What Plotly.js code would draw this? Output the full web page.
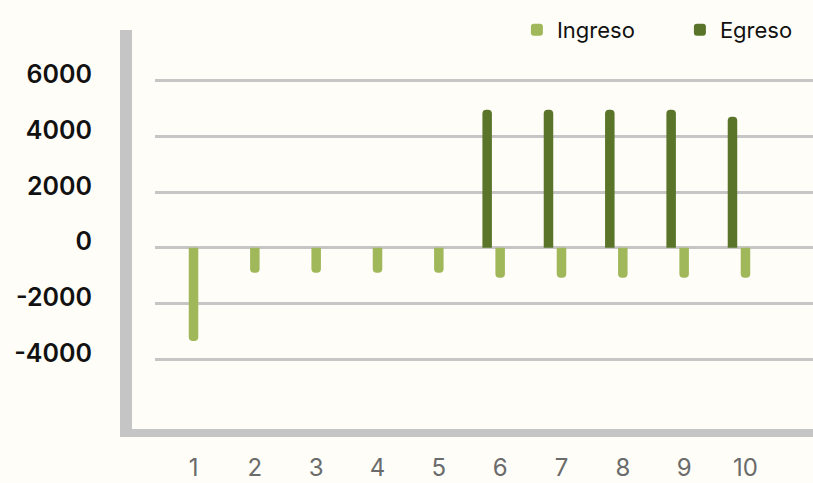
<!DOCTYPE html>
<html>
<head>
<meta charset="utf-8">
<script src="https://cdn.plot.ly/plotly-3.0.1.min.js"></script>
<style>
  html, body { margin: 0; padding: 0; background: #fefdf7; }
  #chart { width: 813px; height: 483px; }
</style>
</head>
<body>
<div id="chart"></div>
<script>
const categories = [1, 2, 3, 4, 5, 6, 7, 8, 9, 10];
const ingreso = [-3350, -900, -900, -900, -900, -1080, -1080, -1080, -1080, -1080];
const egreso = [0, 0, 0, 0, 0, 4950, 4950, 4950, 4950, 4700];
const yTicks = [-4000, -2000, 0, 2000, 4000, 6000];
const yTickText = ['-4000', '-2000', '0', '2000', '4000', '6000'];
const xTickText = ['1', '2', '3', '4', '5', '6', '7', '8', '9', '10'];

const barW = 0.155;
const traces = [
  {
    type: 'bar', name: 'Ingreso', x: categories, y: ingreso,
    width: barW, offset: -barW / 2,
    marker: { color: '#a0b75a', cornerradius: 5 },
    hoverinfo: 'x+y'
  },
  {
    type: 'bar', name: 'Egreso', x: categories, y: egreso,
    width: barW, offset: -0.212 - barW / 2,
    marker: { color: '#5a752a', cornerradius: 5 },
    hoverinfo: 'x+y'
  }
];

const FONT = 'Inter, "Noto Sans", sans-serif';

const layout = {
  width: 813, height: 483,
  margin: { l: 155, r: 0, t: 30, b: 50, autoexpand: false },
  paper_bgcolor: '#fefdf7',
  plot_bgcolor: '#fefdf7',
  barmode: 'overlay',
  showlegend: true,
  legend: {
    orientation: 'h', x: 0.55, xanchor: 'left', y: 1.0, yanchor: 'middle',
    font: { family: FONT, size: 22, color: '#111111' },
    bgcolor: 'rgba(0,0,0,0)', itemwidth: 30, traceorder: 'normal',
    entrywidth: 118
  },
  xaxis: {
    type: 'linear', range: [0.372, 11.101],
    tickvals: categories, ticktext: xTickText,
    showgrid: false, zeroline: false, showline: false, ticks: '',
    ticklabelstandoff: 18,
    tickfont: { family: FONT, size: 24, color: '#6b6b6b' },
    fixedrange: true
  },
  yaxis: {
    range: [-6654, 7817],
    tickvals: yTicks, ticktext: yTickText,
    showgrid: true, gridcolor: '#c6c6c6', gridwidth: 3,
    zeroline: false, showline: false, ticks: '',
    ticklabelstandoff: 62, ticklabelshift: -6,
    tickfont: { family: FONT, size: 25, color: '#111111', weight: 600 },
    fixedrange: true
  },
  shapes: [
    { type: 'rect', xref: 'paper', yref: 'paper', x0: -0.0532, x1: -0.035, y0: -0.0099, y1: 1.0,
      fillcolor: '#c5c5c5', line: { width: 0 }, layer: 'below' },
    { type: 'rect', xref: 'paper', yref: 'paper', x0: -0.0532, x1: 1.0, y0: -0.0099, y1: 0.0099,
      fillcolor: '#c5c5c5', line: { width: 0 }, layer: 'below' }
  ]
};

Plotly.newPlot('chart', traces, layout, { displayModeBar: false, staticPlot: true });
</script>
</body>
</html>
